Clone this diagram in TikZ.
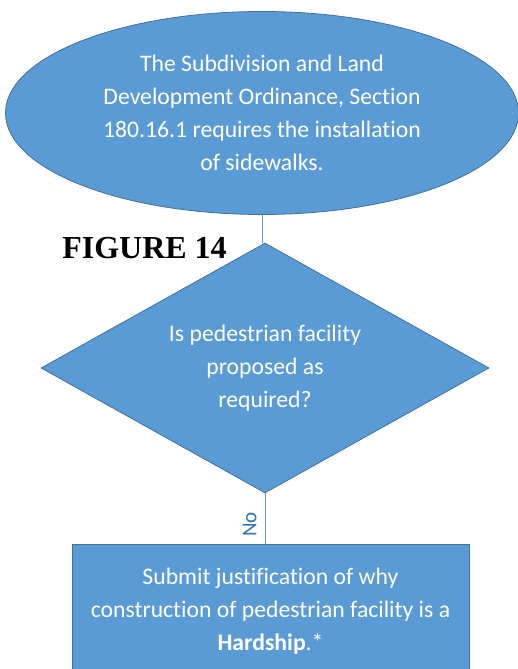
\documentclass[tikz,border=0pt]{standalone}
\usepackage{fontspec}
\setmainfont{Carlito}[Ligatures=NoCommon]
\newfontfamily\figfont{Liberation Serif}
\usetikzlibrary{arrows.meta, positioning, shapes.geometric, calc}
\definecolor{boxfill}{HTML}{5B9BD5}
\definecolor{boxline}{HTML}{41719C}
\definecolor{linkblue}{HTML}{5B9BD5}
\definecolor{labelblue}{HTML}{2E75B6}

\begin{document}
\begin{tikzpicture}[
      x=1pt, y=1pt,
      shapebox/.style={draw=boxline, fill=boxfill, line width=0.8pt, text=white,
                  align=center, inner sep=0pt, font=\fontsize{23.7}{33}\selectfont},
      oval/.style={shapebox, ellipse, minimum width=513pt, minimum height=203pt},
      decision/.style={shapebox, diamond, aspect=2, minimum width=448pt, minimum height=250pt},
      process/.style={shapebox, rectangle, minimum width=397pt, minimum height=134pt},
      link/.style={linkblue, line width=0.8pt}
    ]
      \path[use as bounding box, clip] (0,0) rectangle (518,669);
      \node[oval] (ordinance) at (262,556) {The Subdivision and Land\\Development Ordinance, Section\\180.16.1 requires the installation\\of sidewalks.};
      \node[decision] (question) at (265,301) {Is pedestrian facility\\proposed as\\required?};
      \node[process] (hardship) at (270.5,58) {Submit justification of why\\construction of pedestrian facility is a\\\textbf{Hardship}.*};
      \node[font=\figfont\bfseries\fontsize{32}{36}\selectfont, inner sep=0pt] (figlabel) at (144.5,421) {FIGURE 14};
      \draw[link] (ordinance.south) -- (ordinance.south |- question.north);
      \draw[link] (question.south) -- (question.south |- hardship.north)
        node[pos=0.62, anchor=south, rotate=90, inner sep=0pt, yshift=8pt,
             text=labelblue, font=\fontsize{21}{24}\selectfont] (nolabel) {No};
    \end{tikzpicture}
\end{document}
